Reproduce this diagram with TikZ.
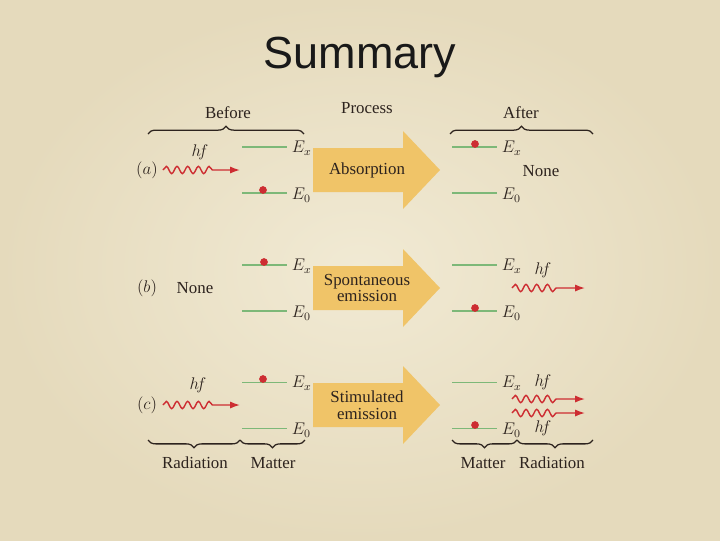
\documentclass[tikz,border=0pt]{standalone}
\usepackage{fontspec}
\setmainfont{Liberation Serif}
\newfontfamily\titlefont{Liberation Sans}
\usetikzlibrary{arrows.meta,positioning,decorations.pathmorphing,decorations.pathreplacing}
\definecolor{paper}{RGB}{241,234,212}
\definecolor{paperedge}{RGB}{229,218,188}
\definecolor{level}{RGB}{125,184,120}
\definecolor{photonred}{RGB}{205,45,50}
\definecolor{procfill}{RGB}{240,196,104}
\definecolor{ink}{RGB}{45,35,30}

\begin{document}
\begin{tikzpicture}[x=0.025cm, y=-0.025cm,
    lvl/.style={level, line width=1.1pt},
    atom/.style={circle, fill=photonred, inner sep=0pt, minimum size=5.5pt},
    photon/.style={photonred, line width=1pt, -{Latex[length=7pt,width=5pt]},
        decorate, decoration={snake, amplitude=2.6pt, segment length=7.6pt, post length=17pt}},
    lbl/.style={text=ink, font=\fontsize{12}{14}\selectfont},
    brace/.style={ink, line width=0.9pt, decorate, decoration={brace, amplitude=5.5pt}}]
    % Background and title
    \useasboundingbox (0,0) rectangle (720,540);
    \shade[inner color=paper, outer color=paperedge] (0,0) rectangle (720,540);
    \node[font=\titlefont\fontsize{32}{36}\selectfont, text=black!90] (title) at (360,57) {Summary};

    % Column heads
    \node[lbl] (before) at (228,113) {Before};
    \node[lbl] (process) at (367,108) {Process};
    \node[lbl] (after) at (521,113) {After};
    \coordinate (bl) at (148,134); \coordinate (br) at (304,134);
    \coordinate (al) at (450,134); \coordinate (ar) at (593,134);
    \draw[brace] (bl) -- (br);
    \draw[brace] (al) -- (ar);

    % Process arrows
    \foreach \y in {170,288,405} {
        \fill[procfill] (313,\y-22) -- (403,\y-22) -- (403,\y-39) -- (440,\y)
            -- (403,\y+39) -- (403,\y+22) -- (313,\y+22) -- cycle;
    }
    \node[lbl] (abstext) at (367,170) {Absorption};
    \node[lbl, align=center] (spontext) at (367,288) {Spontaneous\\[-2pt]emission};
    \node[lbl, align=center] (stimtext) at (367,405) {Stimulated\\[-2pt]emission};

    % Row (a)
    \node[lbl] (rowa) at (147,170) {$(a)$};
    \node[lbl] (hfa) at (200,152) {$h\!f$};
    \coordinate (a-in) at (163,170); \coordinate (a-tip) at (240,170);
    \draw[photon] (a-in) -- (a-tip);
    \node[lbl, anchor=west] (a-ex) at (287,148) {$E_x$};
    \node[lbl, anchor=west] (a-e0) at (287,195) {$E_0$};
    \coordinate (a-x0) at (242,147); \coordinate (a-00) at (242,193);
    \draw[lvl] (a-x0) -- (a-ex.west |- a-x0);
    \draw[lvl] (a-00) -- (a-e0.west |- a-00);
    \node[atom] (a-dot) at (263,190) {};
    \node[lbl, anchor=west] (a-ex2) at (497,148) {$E_x$};
    \node[lbl, anchor=west] (a-e02) at (497,195) {$E_0$};
    \coordinate (a-x1) at (452,147); \coordinate (a-01) at (452,193);
    \draw[lvl] (a-x1) -- (a-ex2.west |- a-x1);
    \draw[lvl] (a-01) -- (a-e02.west |- a-01);
    \node[atom] (a-dot2) at (475,144) {};
    \node[lbl] (nonea) at (541,171) {None};

    % Row (b)
    \node[lbl] (rowb) at (147,288) {$(b)$};
    \node[lbl] (noneb) at (195,288) {None};
    \node[lbl, anchor=west] (b-ex) at (287,266) {$E_x$};
    \node[lbl, anchor=west] (b-e0) at (287,313) {$E_0$};
    \coordinate (b-x0) at (242,265); \coordinate (b-00) at (242,311);
    \draw[lvl] (b-x0) -- (b-ex.west |- b-x0);
    \draw[lvl] (b-00) -- (b-e0.west |- b-00);
    \node[atom] (b-dot) at (264,262) {};
    \node[lbl, anchor=west] (b-ex2) at (497,266) {$E_x$};
    \node[lbl, anchor=west] (b-e02) at (497,313) {$E_0$};
    \coordinate (b-x1) at (452,265); \coordinate (b-01) at (452,311);
    \draw[lvl] (b-x1) -- (b-ex2.west |- b-x1);
    \draw[lvl] (b-01) -- (b-e02.west |- b-01);
    \node[atom] (b-dot2) at (475,308) {};
    \node[lbl] (hfb) at (543,270) {$h\!f$};
    \coordinate (b-out) at (512,288); \coordinate (b-tip) at (585,288);
    \draw[photon] (b-out) -- (b-tip);

    % Row (c)
    \node[lbl] (rowc) at (147,405) {$(c)$};
    \node[lbl] (hfc) at (198,385) {$h\!f$};
    \coordinate (c-in) at (163,405); \coordinate (c-tip) at (240,405);
    \draw[photon] (c-in) -- (c-tip);
    \node[lbl, anchor=west] (c-ex) at (287,383) {$E_x$};
    \node[lbl, anchor=west] (c-e0) at (287,430) {$E_0$};
    \coordinate (c-x0) at (242,382); \coordinate (c-00) at (242,428);
    \draw[lvl, line width=0.7pt] (c-x0) -- (c-ex.west |- c-x0);
    \draw[lvl, line width=0.7pt] (c-00) -- (c-e0.west |- c-00);
    \node[atom] (c-dot) at (263,379) {};
    \node[lbl, anchor=west] (c-ex2) at (497,383) {$E_x$};
    \node[lbl, anchor=west] (c-e02) at (497,430) {$E_0$};
    \coordinate (c-x1) at (452,382); \coordinate (c-01) at (452,428);
    \draw[lvl, line width=0.7pt] (c-x1) -- (c-ex2.west |- c-x1);
    \draw[lvl, line width=0.7pt] (c-01) -- (c-e02.west |- c-01);
    \node[atom] (c-dot2) at (475,425) {};
    \node[lbl] (hfc1) at (543,382) {$h\!f$};
    \node[lbl] (hfc2) at (543,428) {$h\!f$};
    \coordinate (c-out1) at (512,399); \coordinate (c-tip1) at (585,399);
    \coordinate (c-out2) at (512,413); \coordinate (c-tip2) at (585,413);
    \draw[photon] (c-out1) -- (c-tip1);
    \draw[photon] (c-out2) -- (c-tip2);

    % Bottom braces
    \coordinate (r1) at (148,440); \coordinate (m1) at (240,440); \coordinate (m2) at (305,440);
    \coordinate (m3) at (452,440); \coordinate (r2) at (517,440); \coordinate (r3) at (593,440);
    \draw[brace] (m1) -- (r1);
    \draw[brace] (m2) -- (m1);
    \draw[brace] (r2) -- (m3);
    \draw[brace] (r3) -- (r2);
    \node[lbl] (radl) at (195,463) {Radiation};
    \node[lbl] (matl) at (273,463) {Matter};
    \node[lbl] (matr) at (483,463) {Matter};
    \node[lbl] (radr) at (552,463) {Radiation};
\end{tikzpicture}
\end{document}
